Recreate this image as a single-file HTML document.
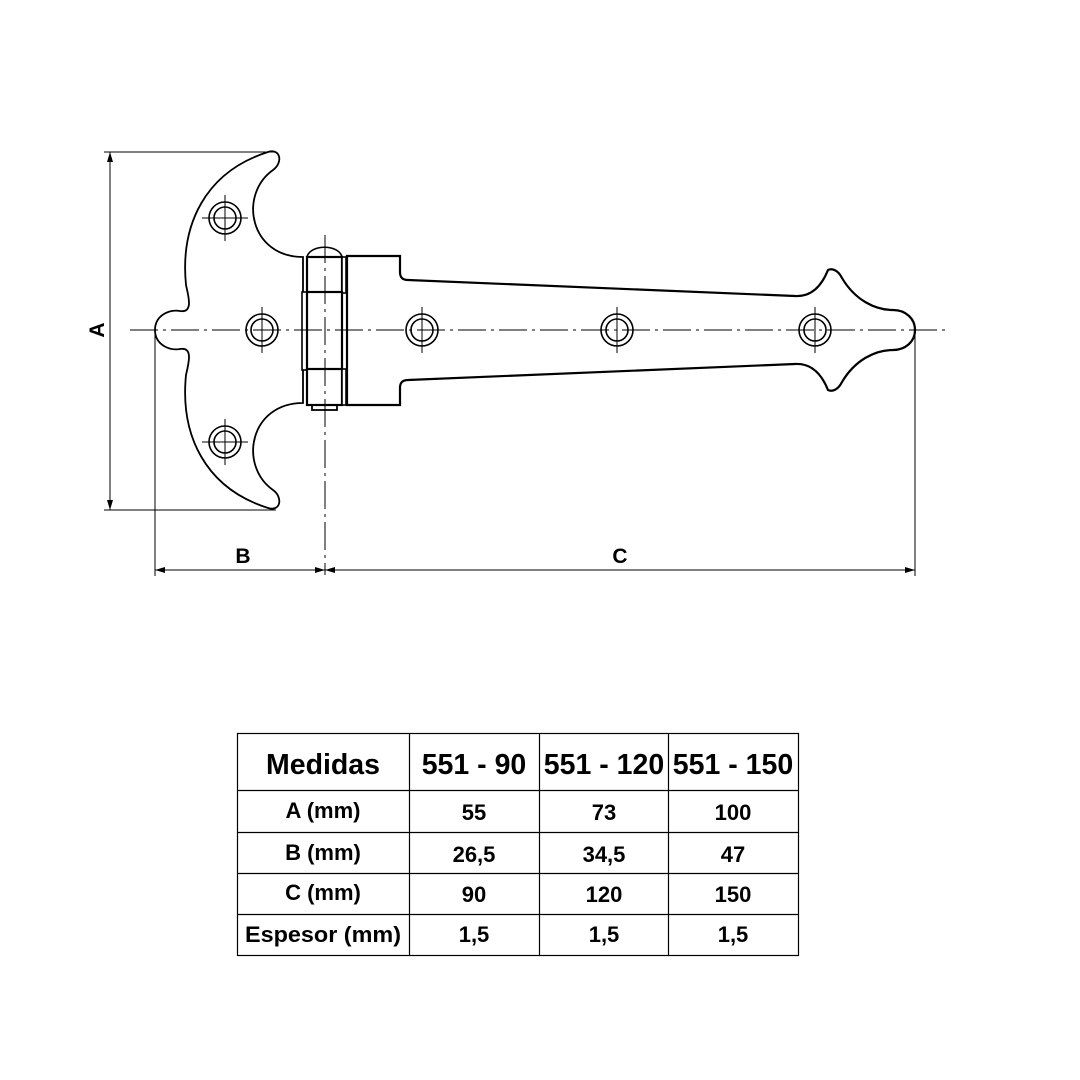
<!DOCTYPE html>
<html><head><style>
body{margin:0;background:#fff;}
svg{display:block}
text{font-family:"Liberation Sans",Arial,sans-serif;font-weight:bold;fill:#000}
</style></head><body>
<svg width="1080" height="1080" viewBox="0 0 1080 1080" xmlns="http://www.w3.org/2000/svg">
<defs>
<marker id="ar" viewBox="0 0 10 6" refX="10" refY="3" markerWidth="10" markerHeight="6" orient="auto-start-reverse" markerUnits="userSpaceOnUse">
<path d="M0,0 L10,3 L0,6 Z" fill="#000"/></marker>
<g id="hole"><circle r="16" fill="none" stroke="#000" stroke-width="1.6"/><circle r="11" fill="none" stroke="#000" stroke-width="1.6"/></g>
</defs>
<path d="M155,330 C155,315 170,309 180,311 C193,313 189,298 186,285 C180,225 205,172 268,152 C281,148 283,163 273,170 C238,195 250,257 303,257 L303,403 C250,403 238,465 273,490 C283,497 281,512 268,508 C205,488 180,435 186,375 C189,362 193,347 180,349 C170,351 155,345 155,330 Z" fill="#fff" stroke="#000" stroke-width="1.8"/>
<path d="M347,256 L400,256 L400,272 C400,278 403,280 408,280 L795,296 C812,297 822,285 828,270 C832,268 838,270 842,278 C855,300 875,310 893,310 C905,310 915,318 915,330 C915,342 905,350 893,350 C875,350 855,360 842,382 C838,390 832,392 828,390 C822,375 812,363 795,364 L408,380 C403,380 400,382 400,388 L400,405 L347,405 Z" fill="#fff" stroke="#000" stroke-width="2.2"/>
<g fill="#fff" stroke="#000" stroke-width="2.2">
<path d="M307,257 C310,244 339,244 342,257 Z" stroke-width="1.6"/>
<rect x="312" y="403" width="25" height="7" stroke-width="1.8"/>
<rect x="307" y="257" width="35" height="36"/>
<rect x="342" y="257" width="4" height="36" stroke-width="1.6"/>
<rect x="302" y="292" width="5" height="78" stroke-width="1.6"/>
<rect x="307" y="292" width="35" height="78"/>
<rect x="307" y="369" width="35" height="36"/>
<rect x="342" y="369" width="4" height="36" stroke-width="1.6"/>
</g>
<use href="#hole" x="225" y="218"/>
<use href="#hole" x="262" y="330"/>
<use href="#hole" x="225" y="442"/>
<use href="#hole" x="422" y="330"/>
<use href="#hole" x="617" y="330"/>
<use href="#hole" x="815" y="330"/>
<g stroke="#000" stroke-width="1">
<path d="M225,195V241M202,218H248M225,419V465M202,442H248M262,307V353M422,307V353M617,307V353M815,307V353"/>
<path d="M130,330H945" stroke-dasharray="28,5,3,5"/>
<path d="M325,235V575" stroke-dasharray="28,5,3,5"/>
<path d="M104,152H276M104,510H276M155,330V576M915,330V576"/>
<line x1="110" y1="152" x2="110" y2="510" marker-start="url(#ar)" marker-end="url(#ar)"/>
<line x1="155" y1="570" x2="325" y2="570" marker-start="url(#ar)" marker-end="url(#ar)"/>
<line x1="325" y1="570" x2="915" y2="570" marker-start="url(#ar)" marker-end="url(#ar)"/>
</g>
<text x="97" y="330" font-size="21" text-anchor="middle" transform="rotate(-90 97 330)" dy="7">A</text>
<text x="243" y="563" font-size="21" text-anchor="middle">B</text>
<text x="620" y="563" font-size="21" text-anchor="middle">C</text>
<g stroke="#000" stroke-width="1.2" fill="none">
<rect x="237.5" y="733.5" width="561" height="222"/>
<path d="M237,790.5H798M237,832.5H798M237,873.5H798M237,914.5H798M409.5,733V955M539.5,733V955M668.5,733V955"/>
</g>
<g text-anchor="middle">
<g font-size="28.5">
<text x="323" y="774">Medidas</text>
<text x="474" y="774">551 - 90</text>
<text x="604" y="774">551 - 120</text>
<text x="733" y="774">551 - 150</text>
</g>
<g font-size="22">
<text x="323" y="818">A (mm)</text><text x="474" y="820">55</text><text x="604" y="820">73</text><text x="733" y="820">100</text>
<text x="323" y="860">B (mm)</text><text x="474" y="862">26,5</text><text x="604" y="862">34,5</text><text x="733" y="862">47</text>
<text x="323" y="900">C (mm)</text><text x="474" y="902">90</text><text x="604" y="902">120</text><text x="733" y="902">150</text>
<text x="323" y="942" textLength="156" lengthAdjust="spacingAndGlyphs">Espesor (mm)</text><text x="474" y="942">1,5</text><text x="604" y="942">1,5</text><text x="733" y="942">1,5</text>
</g></g>
</svg>
</body></html>
